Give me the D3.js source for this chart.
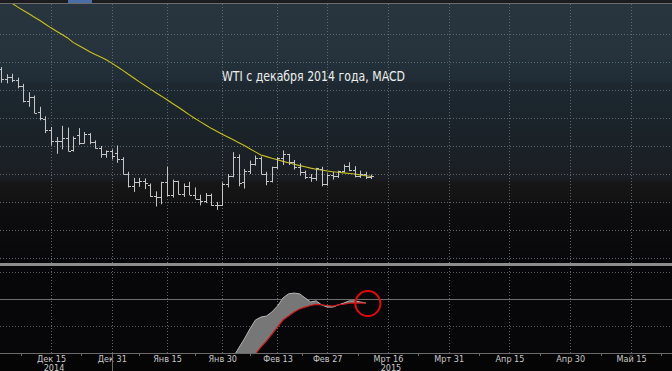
<!DOCTYPE html>
<html>
<head>
<meta charset="utf-8">
<script src="https://cdn.jsdelivr.net/npm/d3@7"></script>
<style>
html, body { margin: 0; padding: 0; background: #060608; overflow: hidden; }
svg { display: block; }
</style>
</head>
<body>
<div id="chart"></div>
<script>
// WTI daily bars, Dec 1 2014 .. Mar 11 2015
var dates = [
  "2014-12-01","2014-12-02","2014-12-03","2014-12-04","2014-12-05",
  "2014-12-08","2014-12-09","2014-12-10","2014-12-11","2014-12-12",
  "2014-12-15","2014-12-16","2014-12-17","2014-12-18","2014-12-19",
  "2014-12-22","2014-12-23","2014-12-24","2014-12-26",
  "2014-12-29","2014-12-30","2014-12-31","2015-01-02",
  "2015-01-05","2015-01-06","2015-01-07","2015-01-08","2015-01-09",
  "2015-01-12","2015-01-13","2015-01-14","2015-01-15","2015-01-16",
  "2015-01-20","2015-01-21","2015-01-22","2015-01-23",
  "2015-01-26","2015-01-27","2015-01-28","2015-01-29","2015-01-30",
  "2015-02-02","2015-02-03","2015-02-04","2015-02-05","2015-02-06",
  "2015-02-09","2015-02-10","2015-02-11","2015-02-12","2015-02-13",
  "2015-02-17","2015-02-18","2015-02-19","2015-02-20",
  "2015-02-23","2015-02-24","2015-02-25","2015-02-26","2015-02-27",
  "2015-03-02","2015-03-03","2015-03-04","2015-03-05","2015-03-06",
  "2015-03-09","2015-03-10","2015-03-11"
];
var open  = [66.0,68.8,66.9,67.4,66.7, 65.8,63.0,63.8,61.0,59.9, 57.9,55.9,55.9,56.5,54.2, 56.9,55.6,57.1,55.8,
             54.7,53.6,54.1,53.8, 52.7,50.0,47.9,48.6,48.8, 48.1,46.1,45.9,48.5,46.3, 48.7,46.4,47.8,46.3,
             45.6,45.2,46.2,44.5,44.5, 48.2,49.6,53.1,48.5,50.5, 51.7,52.9,50.0,48.8,51.2, 52.8,53.5,52.1,51.2,
             50.3,49.45,49.3,50.9,48.2, 49.8,49.6,50.5,51.5,50.8, 49.6,50.0,49.4];
var high  = [69.45,69.1,67.8,67.9,67.2, 66.1,64.6,64.0,62.0,60.3, 58.4,56.6,58.6,58.3,56.7, 58.2,57.5,57.3,56.0,
             55.0,54.2,54.4,55.1, 53.0,50.4,49.3,49.3,49.2, 48.3,46.9,48.6,51.3,49.0, 48.8,48.3,48.6,47.6,
             46.3,46.6,46.5,45.0,48.5, 50.0,53.9,53.5,50.9,52.4, 53.3,53.1,50.4,51.3,53.0, 54.2,53.6,52.5,51.9,
             50.6,50.0,51.1,51.3,50.1, 50.4,50.6,51.7,52.1,51.4, 50.6,50.4,49.9];
var low   = [63.7,66.3,66.2,66.4,65.3, 62.8,62.0,60.8,59.6,57.3, 55.1,53.6,54.4,54.0,54.0, 55.2,55.4,55.3,54.5,
             52.9,52.9,52.6,52.0, 49.9,47.6,46.8,47.7,47.3, 45.9,44.2,44.6,46.0,45.8, 46.3,45.9,46.2,45.5,
             44.4,44.8,44.3,43.6,44.3, 47.6,49.4,47.8,47.4,50.0, 51.5,49.9,48.0,48.5,50.9, 51.6,51.6,50.8,49.7,
             49.1,48.6,48.8,47.8,47.9, 49.0,49.3,50.3,50.5,49.4, 49.3,49.1,49.1];
var close = [69.0,66.9,67.4,66.8,65.8, 63.1,63.8,60.9,60.0,57.8, 55.9,55.9,56.5,54.1,56.5, 55.6,57.1,55.8,54.7,
             53.6,54.1,53.3,52.7, 50.0,47.9,48.6,48.8,48.4, 46.1,45.9,48.5,46.3,48.7, 46.4,47.8,46.3,45.6,
             45.2,46.2,44.45,44.5,48.2, 49.6,53.1,48.45,50.5,51.7, 52.9,50.0,48.8,51.2,52.8, 53.5,52.1,51.2,50.3,
             49.45,49.25,50.99,48.2,49.8, 49.6,50.5,51.5,50.8,49.6, 50.0,49.4,49.6];
// yellow moving average, same dates
var movingAvg = [82.3,81.7,81.0,80.45,79.8, 79.2,78.6,78.0,77.4,76.75, 76.1,75.5,74.9,74.3,73.5, 72.95,72.4,71.85,71.35,
             70.9,70.4,69.8,69.15, 68.5,67.8,67.15,66.45,65.8, 65.15,64.5,63.9,63.25,62.6, 61.95,61.3,60.6,59.95,
             59.35,58.75,58.15,57.65,57.1, 56.6,56.1,55.6,55.1,54.5, 53.95,53.4,53.1,52.8,52.55, 52.25,52.0,51.75,51.5,
             51.3,51.05,50.85,50.7,50.55, 50.4,50.3,50.2,50.1,50.0, 49.85,49.7,49.55];

// MACD panel, from Jan 29 on (earlier values are below the panel)
var macdStart = "2015-01-29";
var macd   = [-3.19,-2.85,-2.48,-2.15,-1.81,-1.48,-1.11,-0.78,-0.67,-0.63,-0.48,-0.26,0.04,0.19,0.22,0.19,0.04,
              -0.11,-0.07,-0.22,-0.30,-0.30,-0.22,-0.15,-0.07,-0.07,-0.11,-0.15];
var signal = [-3.93,-3.70,-3.44,-3.19,-2.89,-2.59,-2.30,-2.04,-1.78,-1.56,-1.30,-1.04,-0.78,-0.63,-0.48,-0.37,-0.30,
              -0.24,-0.20,-0.22,-0.24,-0.26,-0.22,-0.19,-0.15,-0.15,-0.15,-0.15];

var tickDates  = ["2014-12-15","2014-12-31","2015-01-15","2015-01-30","2015-02-13","2015-02-27",
                  "2015-03-16","2015-03-31","2015-04-15","2015-04-30","2015-05-15"];
var tickLabels = ["Дек 15","Дек 31","Янв 15","Янв 30","Фев 13","Фев 27",
                  "Мрт 16","Мрт 31","Апр 15","Апр 30","Май 15"];
var yearDates  = ["2014-12-15","2015-03-16"];
var yearLabels = ["2014","2015"];
var priceGrid  = [75,70,65,60,55,50,45,40,35];
var macdGrid   = [1,-1];
var holidays   = ["2014-12-25","2015-01-01","2015-01-19","2015-02-16"];
var title = "WTI с декабря 2014 года, MACD";

var w = 672;
var h = 371;
var mainTop = 4, mainBottom = 262;
var lowTop = 267, axisY = 353;
var labelFont = '"Liberation Sans Narrow", "DejaVu Sans Condensed", sans-serif';

// trading-day calendar: the x axis skips weekends and holidays
var fmt = d3.utcFormat("%Y-%m-%d");
var calendar = d3.utcDays(new Date(Date.UTC(2014, 11, 1)), new Date(Date.UTC(2015, 5, 1)))
  .filter(function(d) { var wd = d.getUTCDay(); return wd != 0 && wd != 6; })
  .map(fmt)
  .filter(function(s) { return holidays.indexOf(s) < 0; });
function idx(s) { return calendar.indexOf(s); }

var x = d3.scaleLinear()
  .domain([idx(tickDates[0]), idx(tickDates[tickDates.length - 1])])
  .range([51, 631]);
var y = d3.scaleLinear().domain([45, 50]).range([202, 174]);
var yM = d3.scaleLinear().domain([-1, 1]).range([326, 272]);

var svg = d3.select('#chart').append('svg')
  .attr('width', w)
  .attr('height', h);

var defs = svg.append('defs');
var grad = defs.append('linearGradient')
  .attr('id', 'bg').attr('gradientUnits', 'userSpaceOnUse')
  .attr('x1', 0).attr('y1', mainTop).attr('x2', 0).attr('y2', mainBottom);
[[4,'#28353f'],[58,'#26333d'],[62,'#223039'],[80,'#212d36'],[84,'#1d2830'],[120,'#1b242b'],
 [178,'#1a1e23'],[183,'#161617'],[200,'#131314'],[205,'#0e0e11'],[262,'#08080a']].forEach(function(s) {
  grad.append('stop').attr('offset', (s[0] - mainTop) / (mainBottom - mainTop)).attr('stop-color', s[1]);
});
defs.append('clipPath').attr('id', 'clipMain').append('rect')
  .attr('x', 0).attr('y', mainTop).attr('width', w).attr('height', mainBottom - mainTop);
defs.append('clipPath').attr('id', 'clipLow').append('rect')
  .attr('x', 0).attr('y', lowTop).attr('width', w).attr('height', axisY - lowTop);

// backgrounds
svg.append('rect').attr('width', w).attr('height', h).attr('fill', '#050506');
svg.append('rect').attr('x', 0).attr('y', mainTop).attr('width', w).attr('height', mainBottom - mainTop)
  .attr('fill', 'url(#bg)');
svg.append('rect').attr('x', 0).attr('y', lowTop).attr('width', w).attr('height', axisY - lowTop)
  .attr('fill', '#07070a');

// top tab strip
svg.append('rect').attr('x', 0).attr('y', 0).attr('width', w).attr('height', 3).attr('fill', '#1c1c1e');
svg.append('rect').attr('x', 68).attr('y', 0).attr('width', 24).attr('height', 3).attr('fill', '#4a6ea6');
svg.append('line').attr('x1', 0).attr('x2', w).attr('y1', 3.5).attr('y2', 3.5)
  .attr('stroke', '#6c6c6c').attr('stroke-width', 1);

// grid
var grid = svg.append('g').attr('class', 'grid');
grid.selectAll('line.h').data(priceGrid).enter().append('line')
  .attr('x1', 0).attr('x2', w)
  .attr('y1', function(d) { return Math.round(y(d)) + 0.5; })
  .attr('y2', function(d) { return Math.round(y(d)) + 0.5; })
  .attr('stroke', '#5d666e').attr('stroke-dasharray', '1,2');
grid.selectAll('line.v').data(tickDates).enter().append('line')
  .attr('x1', function(d) { return Math.round(x(idx(d))) + 0.5; })
  .attr('x2', function(d) { return Math.round(x(idx(d))) + 0.5; })
  .attr('y1', mainTop).attr('y2', axisY)
  .attr('stroke', '#5d666e').attr('stroke-dasharray', '1,2');
grid.selectAll('line.m').data(macdGrid).enter().append('line')
  .attr('x1', 0).attr('x2', w)
  .attr('y1', function(d) { return Math.round(yM(d)) + 0.5; })
  .attr('y2', function(d) { return Math.round(yM(d)) + 0.5; })
  .attr('stroke', '#55585c').attr('stroke-dasharray', '1,2');
grid.append('line').attr('x1', 0).attr('x2', w)
  .attr('y1', Math.round(yM(0)) + 0.5).attr('y2', Math.round(yM(0)) + 0.5)
  .attr('stroke', '#6e6e6e');

// separator between panels
svg.append('rect').attr('x', 0).attr('y', 263).attr('width', w).attr('height', 3).attr('fill', '#8d8d8d');

// price panel
var main = svg.append('g').attr('clip-path', 'url(#clipMain)');

var maLine = d3.line()
  .x(function(d, i) { return x(idx(dates[i])); })
  .y(function(d) { return y(d); });
main.append('path').datum(movingAvg)
  .attr('d', maLine)
  .attr('fill', 'none').attr('stroke', '#c9c21a').attr('stroke-width', 1.1);

var bars = main.append('g').selectAll('g').data(dates).enter().append('g')
  .attr('stroke', '#c4c6c8').attr('stroke-width', 1);
bars.append('line')
  .attr('x1', function(d) { return Math.round(x(idx(d))) + 0.5; })
  .attr('x2', function(d) { return Math.round(x(idx(d))) + 0.5; })
  .attr('y1', function(d, i) { return y(high[i]); })
  .attr('y2', function(d, i) { return y(low[i]); });
bars.append('line')
  .attr('x1', function(d) { return Math.round(x(idx(d))) - 2; })
  .attr('x2', function(d) { return Math.round(x(idx(d))); })
  .attr('y1', function(d, i) { return Math.round(y(open[i])) + 0.5; })
  .attr('y2', function(d, i) { return Math.round(y(open[i])) + 0.5; });
bars.append('line')
  .attr('x1', function(d) { return Math.round(x(idx(d))) + 1; })
  .attr('x2', function(d) { return Math.round(x(idx(d))) + 3; })
  .attr('y1', function(d, i) { return Math.round(y(close[i])) + 0.5; })
  .attr('y2', function(d, i) { return Math.round(y(close[i])) + 0.5; });

svg.append('text')
  .attr('x', 222).attr('y', 81)
  .attr('font-family', labelFont)
  .attr('font-size', 14).attr('fill', '#eeeeee')
  .attr('textLength', 183).attr('lengthAdjust', 'spacingAndGlyphs')
  .text(title);

// MACD panel
var low_ = svg.append('g').attr('clip-path', 'url(#clipLow)');
var m0 = idx(macdStart);
var mx = function(d, i) { return x(m0 + i); };
var band = d3.area()
  .x(mx)
  .y0(function(d, i) { return yM(signal[i]); })
  .y1(function(d) { return yM(d); });
low_.append('path').datum(macd).attr('d', band).attr('fill', '#777777');
low_.append('path').datum(macd)
  .attr('d', d3.line().x(mx).y(function(d) { return yM(d); }))
  .attr('fill', 'none').attr('stroke', '#b4b4b4').attr('stroke-width', 1);
low_.append('path').datum(signal)
  .attr('d', d3.line().x(mx).y(function(d) { return yM(d); }))
  .attr('fill', 'none').attr('stroke', '#d01818').attr('stroke-width', 1.2);

// highlight circle round the last MACD point
svg.append('circle')
  .attr('cx', x(m0 + macd.length - 1) + 2).attr('cy', yM(macd[macd.length - 1]) + 0.5)
  .attr('r', 12.5)
  .attr('fill', 'none').attr('stroke', '#e00808').attr('stroke-width', 2);

// date axis
var axis = d3.axisBottom(x)
  .tickValues(tickDates.map(idx))
  .tickSize(0)
  .tickPadding(2.5)
  .tickFormat(function(d, i) { return tickLabels[i]; });
var ax = svg.append('g').attr('transform', 'translate(0,' + axisY + ')').call(axis);
ax.select('.domain').remove();
ax.selectAll('text')
  .attr('font-family', labelFont)
  .attr('font-size', 9).attr('fill', '#c8c8c8');
svg.append('line').attr('x1', 0).attr('x2', w).attr('y1', axisY + 0.5).attr('y2', axisY + 0.5)
  .attr('stroke', '#6a6a6a');

// minor ticks halfway between labels
var tickIdx = tickDates.map(idx);
var minor = tickIdx.map(function(t, i) {
  return i == 0 ? t - (tickIdx[1] - t) / 2 : (t + tickIdx[i - 1]) / 2;
});
minor.push(tickIdx[tickIdx.length - 1] + 5.5);
svg.append('g').selectAll('line').data(minor).enter().append('line')
  .attr('x1', function(d) { return Math.round(x(d)) + 0.5; })
  .attr('x2', function(d) { return Math.round(x(d)) + 0.5; })
  .attr('y1', axisY + 1).attr('y2', axisY + 3)
  .attr('stroke', '#6a6a6a');

// year change marker and year labels
svg.append('line')
  .attr('x1', Math.round(x(idx("2014-12-31"))) + 0.5).attr('x2', Math.round(x(idx("2014-12-31"))) + 0.5)
  .attr('y1', axisY).attr('y2', h)
  .attr('stroke', '#6a6a6a');
svg.append('g').selectAll('text').data(yearDates).enter().append('text')
  .attr('x', function(d) { return x(idx(d)) + 3; })
  .attr('y', 370.5)
  .attr('text-anchor', 'middle')
  .attr('font-family', labelFont)
  .attr('font-size', 9).attr('fill', '#c8c8c8')
  .text(function(d, i) { return yearLabels[i]; });
</script>
</body>
</html>
